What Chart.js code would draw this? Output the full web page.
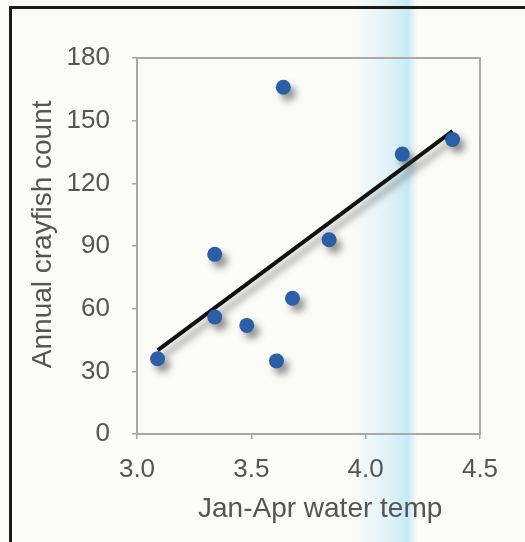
<!DOCTYPE html>
<html>
<head>
<meta charset="utf-8">
<script src="https://cdn.jsdelivr.net/npm/chart.js@4.4.1/dist/chart.umd.min.js"></script>
<style>
  html, body { margin: 0; padding: 0; background: #fbfbf8; }
  #wrap { width: 525px; height: 542px; position: relative; }
</style>
</head>
<body>
<div id="wrap"><canvas id="c" width="525" height="542"></canvas></div>
<script>
// Data
const waterTemp = [3.09, 3.34, 3.34, 3.48, 3.61, 3.64, 3.68, 3.84, 4.16, 4.38];
const crayfishCount = [36, 86, 56, 52, 35, 166, 65, 93, 134, 141];
const trendX = [3.09, 4.38];
const trendY = [40, 145];
const xTicks = [3.0, 3.5, 4.0, 4.5];
const yTicks = [0, 30, 60, 90, 120, 150, 180];

const points = waterTemp.map((x, i) => ({ x: x, y: crayfishCount[i] }));
const trend = trendX.map((x, i) => ({ x: x, y: trendY[i] }));

const FONT = "'Liberation Sans', Arial, sans-serif";
const GRAY = '#a9a9a9';

const decor = {
  id: 'decor',
  beforeDraw(chart) {
    const ctx = chart.ctx;
    ctx.save();
    ctx.fillStyle = '#fbfbf8';
    ctx.fillRect(0, 0, chart.width, chart.height);
    // faint cyan scan band
    const g = ctx.createLinearGradient(352, 0, 418, 0);
    g.addColorStop(0, 'rgba(120,210,240,0)');
    g.addColorStop(0.5, 'rgba(120,210,240,0.18)');
    g.addColorStop(0.85, 'rgba(80,190,235,0.30)');
    g.addColorStop(1, 'rgba(120,210,240,0)');
    ctx.fillStyle = g;
    ctx.fillRect(352, 0, 66, chart.height);
    // outer black frame
    ctx.strokeStyle = '#1a1a1a';
    ctx.lineWidth = 3;
    ctx.beginPath();
    ctx.moveTo(10.5, chart.height + 5);
    ctx.lineTo(10.5, 7.5);
    ctx.lineTo(chart.width + 5, 7.5);
    ctx.stroke();
    ctx.restore();
  },
  beforeDatasetsDraw(chart) {
    const { ctx, chartArea: a } = chart;
    ctx.save();
    ctx.strokeStyle = GRAY;
    ctx.lineWidth = 2;
    ctx.strokeRect(a.left, a.top, a.right - a.left, a.bottom - a.top);
    ctx.restore();
  },
  beforeDatasetDraw(chart) {
    const ctx = chart.ctx;
    ctx.save();
    ctx.shadowColor = 'rgba(60,60,60,0.55)';
    ctx.shadowBlur = 7;
    ctx.shadowOffsetX = 5;
    ctx.shadowOffsetY = 6;
  },
  afterDatasetDraw(chart) {
    chart.ctx.restore();
  }
};

new Chart(document.getElementById('c'), {
  type: 'scatter',
  data: {
    datasets: [
      {
        type: 'line',
        data: trend,
        borderColor: '#111111',
        borderWidth: 4,
        pointRadius: 0,
        fill: false,
        order: 2
      },
      {
        data: points,
        backgroundColor: '#2c5ea8',
        borderColor: '#2c5ea8',
        borderWidth: 0,
        pointRadius: 7.5,
        order: 1
      }
    ]
  },
  options: {
    responsive: false,
    animation: false,
    devicePixelRatio: 1,
    layout: { padding: { left: 0, top: 58, right: 45, bottom: 0 } },
    plugins: { legend: { display: false }, tooltip: { enabled: false } },
    scales: {
      x: {
        type: 'linear',
        min: 3.0, max: 4.5,
        afterBuildTicks(scale) { scale.ticks = xTicks.map(v => ({ value: v })); },
        afterFit(scale) { scale.height = 108; },
        ticks: {
          color: '#555',
          font: { family: FONT, size: 26 },
          padding: 15,
          callback: v => Number(v).toFixed(1)
        },
        grid: { drawOnChartArea: false, drawTicks: true, tickLength: 5, color: GRAY, lineWidth: 1.5 },
        border: { display: true, color: GRAY, width: 2 },
        title: {
          display: true,
          text: '   Jan-Apr water temp',
          color: '#555',
          font: { family: FONT, size: 28 },
          padding: { top: 0, bottom: 16 }
        }
      },
      y: {
        type: 'linear',
        min: 0, max: 180,
        afterBuildTicks(scale) { scale.ticks = yTicks.map(v => ({ value: v })); },
        afterFit(scale) { scale.width = 137; },
        ticks: {
          color: '#555',
          font: { family: FONT, size: 26 },
          padding: 22
        },
        grid: { drawOnChartArea: false, drawTicks: true, tickLength: 5, color: GRAY, lineWidth: 1.5 },
        border: { display: true, color: GRAY, width: 2 },
        title: {
          display: true,
          text: '   Annual crayfish count',
          color: '#555',
          font: { family: FONT, size: 28 },
          padding: { top: 26, bottom: 0 }
        }
      }
    }
  },
  plugins: [decor]
});
</script>
</body>
</html>
